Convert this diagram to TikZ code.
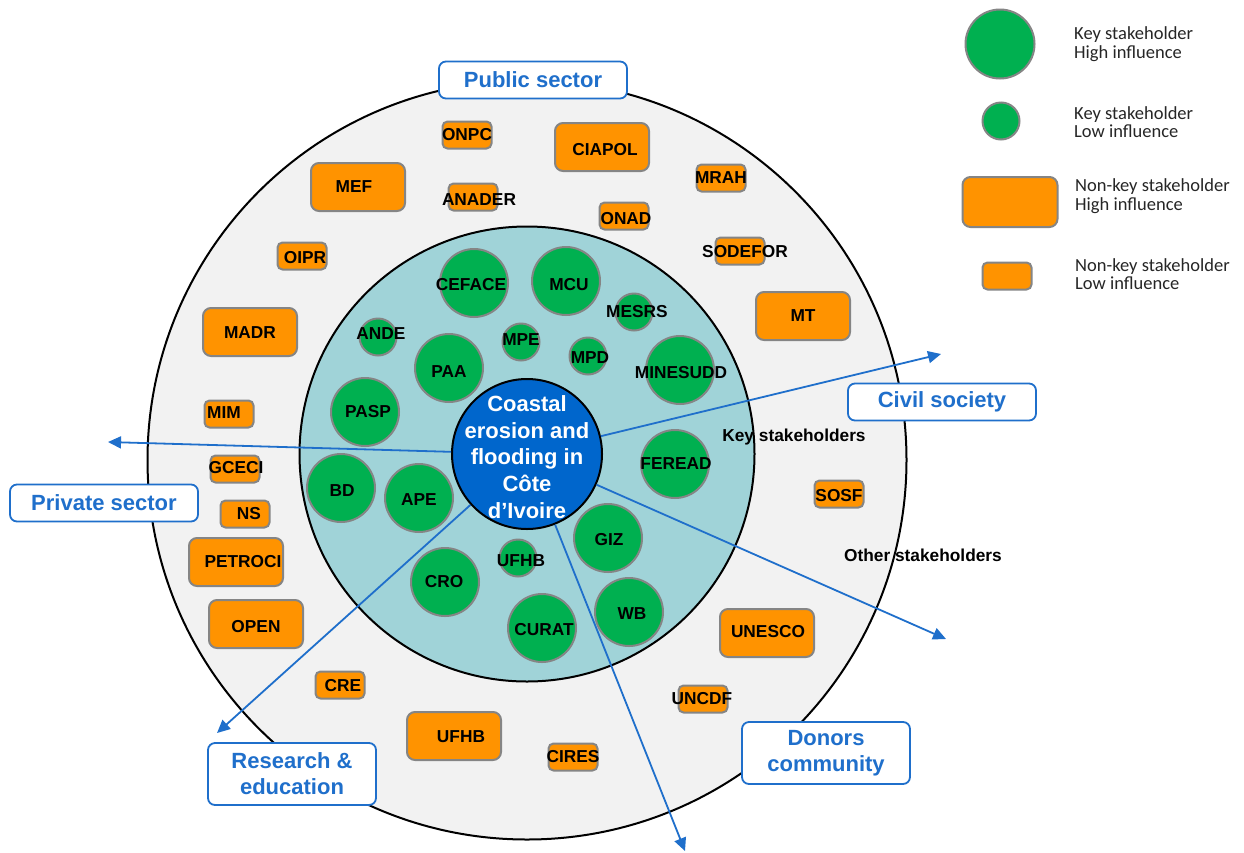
\documentclass[tikz,border=0pt]{standalone}
\usepackage{fontspec}
\setmainfont{Liberation Sans}
\newfontfamily\legendfont{Carlito}
\usetikzlibrary{arrows.meta}

\definecolor{ringout}{HTML}{F2F2F2}
\definecolor{ringin}{RGB}{160,211,216}
\definecolor{keygreen}{HTML}{00B050}
\definecolor{otherorange}{HTML}{FF9300}
\definecolor{issueblue}{HTML}{0066CC}
\definecolor{linkblue}{HTML}{1F6FCB}
\definecolor{rim}{HTML}{858585}

\begin{document}
\begin{tikzpicture}[x=1pt,y=-1pt]
        \tikzset{ring/.style = {shape=circle,draw,line width=2pt,inner sep=0pt}}
        \tikzset{keyhi/.style = {shape=circle,draw=rim,fill=keygreen,line width=2pt,inner sep=0pt,minimum size=68pt}}
        \tikzset{keylo/.style = {keyhi,minimum size=37pt}}
        \tikzset{otherhi/.style = {shape=rectangle,draw=rim,fill=otherorange,line width=2pt,rounded corners=8pt,inner sep=0pt,minimum width=94pt,minimum height=48pt}}
        \tikzset{otherlo/.style = {otherhi,rounded corners=5pt,minimum width=49pt,minimum height=27pt}}
        \tikzset{tag/.style = {font=\fontsize{17.3}{20}\selectfont\bfseries,inner sep=0pt}}
        \tikzset{issue/.style = {text=white,align=center,inner sep=0pt,font=\fontsize{22}{26.7}\selectfont\bfseries}}
        \tikzset{sector/.style = {draw=linkblue,fill=white,line width=1.8pt,rounded corners=7pt,text=linkblue,align=center,
                 font=\fontsize{22}{26}\selectfont\bfseries,minimum width=188pt,minimum height=37pt}}
        \tikzset{flow/.style = {draw=linkblue,line width=1.8pt,-{Triangle[length=13pt,width=12pt]}}}
        \tikzset{legend/.style = {anchor=west,align=left,inner sep=0pt,text=black!85,font=\legendfont\fontsize{18.5}{18.5}\selectfont}}
        \fill[white] (0,0) rectangle (1244,852);
        \useasboundingbox (0,0) rectangle (1244,852);
        % rings
        \node[ring,fill=ringout,minimum size=759pt] (others) at (527,460) {};
        \node[ring,fill=ringin,minimum size=455pt] (keys) at (527,454) {};
        \node[ring,fill=issueblue,minimum size=150pt,
              label={[issue,yshift=-3pt]center:Coastal\\erosion and\\flooding in\\Côte\\d’Ivoire}] (coast) at (527,454) {};
        % key stakeholders
        \node[keyhi,label={[tag,xshift=-3pt,yshift=-2pt]center:CEFACE}] (ceface) at (474,283) {};
        \node[keyhi,label={[tag,xshift=3pt,yshift=-4pt]center:MCU}] (mcu) at (566,281) {};
        \node[keylo,label={[tag,xshift=3pt]center:MESRS}] (mesrs) at (634,312) {};
        \node[keylo,label={[tag,xshift=3pt,yshift=3pt]center:ANDE}] (ande) at (378,337) {};
        \node[keylo,label={[tag,yshift=2pt]center:MPE}] (mpe) at (521,342) {};
        \node[keyhi,label={[tag,yshift=-4pt]center:PAA}] (paa) at (449,368) {};
        \node[keylo,label={[tag,xshift=2pt,yshift=-2pt]center:MPD}] (mpd) at (588,356) {};
        \node[keyhi,label={[tag,xshift=1pt,yshift=-3pt]center:MINESUDD}] (minesudd) at (680,370) {};
        \node[keyhi,label={[tag,xshift=3pt]center:PASP}] (pasp) at (365,412) {};
        \node[keyhi,label={[tag,xshift=1pt]center:FEREAD}] (feread) at (675,464) {};
        \node[keyhi,label={[tag,xshift=1pt,yshift=-3pt]center:BD}] (bd) at (341,488) {};
        \node[keyhi,label={[tag,yshift=-2pt]center:APE}] (ape) at (419,498) {};
        \node[keyhi,label={[tag,xshift=1pt,yshift=-2pt]center:GIZ}] (giz) at (608,538) {};
        \node[keylo,label={[tag,xshift=3pt,yshift=-3pt]center:UFHB}] (ufhb) at (518,558) {};
        \node[keyhi,label={[tag,xshift=-1pt]center:CRO}] (cro) at (445,582) {};
        \node[keyhi,label={[tag,xshift=2pt,yshift=-2pt]center:CURAT}] (curat) at (542,628) {};
        \node[keyhi,label={[tag,xshift=3pt,yshift=-2pt]center:WB}] (wb) at (629,612) {};
        % other stakeholders
        \node[otherlo,label={[tag]center:ONPC}] (onpc) at (467,135) {};
        \node[otherhi,label={[tag,xshift=3pt,yshift=-3pt]center:CIAPOL}] (ciapol) at (602,147) {};
        \node[otherlo,label={[tag]center:MRAH}] (mrah) at (721,178) {};
        \node[otherlo,label={[tag,xshift=6pt,yshift=-3pt]center:ANADER}] (anader) at (473,197) {};
        \node[otherlo,label={[tag,xshift=2pt,yshift=-3pt]center:ONAD}] (onad) at (624,216) {};
        \node[otherlo,label={[tag,xshift=5pt,yshift=-1pt]center:SODEFOR}] (sodefor) at (740,251) {};
        \node[otherhi,label={[tag,xshift=-4pt]center:MEF}] (mef) at (358,187) {};
        \node[otherlo,label={[tag,xshift=3pt,yshift=-2pt]center:OIPR}] (oipr) at (302,256) {};
        \node[otherhi,label={[tag,yshift=-1pt]center:MADR}] (madr) at (250,332) {};
        \node[otherhi,label={[tag]center:MT}] (mt) at (803,316) {};
        \node[otherlo,label={[tag,yshift=-2pt]center:SOSF}] (sosf) at (839,494) {};
        \node[otherlo,label={[tag,xshift=-5pt,yshift=1pt]center:MIM}] (mim) at (229,414) {};
        \node[otherlo,label={[tag,xshift=1pt,yshift=1pt]center:GCECI}] (gceci) at (235,469) {};
        \node[otherlo,label={[tag,xshift=4pt]center:NS}] (ns) at (245,514) {};
        \node[otherhi,label={[tag,xshift=7pt]center:PETROCI}] (petroci) at (236,562) {};
        \node[otherhi,label={[tag,yshift=-3pt]center:OPEN}] (open) at (256,624) {};
        \node[otherlo,label={[tag,xshift=3pt,yshift=-1pt]center:CRE}] (cre) at (340,685) {};
        \node[otherhi,label={[tag,xshift=7pt,yshift=-1pt]center:UFHB}] (ufhbout) at (454,736) {};
        \node[otherlo,label={[tag]center:CIRES}] (cires) at (573,757) {};
        \node[otherhi,label={[tag,xshift=1pt,yshift=1pt]center:UNESCO}] (unesco) at (767,633) {};
        \node[otherlo,label={[tag,xshift=-1pt]center:UNCDF}] (uncdf) at (703,699) {};
        % ring captions
        \node[tag] (keycap) at (794,437) {Key stakeholders};
        \node[tag] (othercap) at (923,555) {Other stakeholders};
        % links to the sectors
        \coordinate (to-private) at (108,442);
        \coordinate (to-civil) at (941,354);
        \coordinate (to-other) at (946,639);
        \coordinate (to-donors) at (685,851);
        \coordinate (to-research) at (217,733);
        \draw[flow] (coast) -- (to-private);
        \draw[flow] (coast) -- (to-civil);
        \draw[flow] (coast) -- (to-other);
        \draw[flow] (coast) -- (to-donors);
        \draw[flow] (coast) -- (to-research);
        % sectors
        \node[sector] (public) at (533,80) {Public sector};
        \node[sector] (private) at (104,503) {Private sector};
        \node[sector] (civil) at (942,402) {Civil society};
        \node[sector,minimum width=168pt,minimum height=62pt] (donors) at (826,753) {Donors\\community};
        \node[sector,minimum width=168pt,minimum height=62pt] (research) at (292,774) {Research \&\\education};
        % legend
        \node[keyhi,minimum size=69pt] (leg-khi) at (1000,44) {};
        \node[keylo] (leg-klo) at (1001,121) {};
        \node[otherhi,minimum width=95pt,minimum height=50pt] (leg-ohi) at (1010,202) {};
        \node[otherlo] (leg-olo) at (1007,276) {};
        \node[legend] (leg-khi-t) at (1074,44) {Key stakeholder\\High influence};
        \node[legend] (leg-klo-t) at (1074,122) {Key stakeholder\\Low influence};
        \node[legend] (leg-ohi-t) at (1075,196) {Non-key stakeholder\\High influence};
        \node[legend] (leg-olo-t) at (1075,274) {Non-key stakeholder\\Low influence};
\end{tikzpicture}
\end{document}
